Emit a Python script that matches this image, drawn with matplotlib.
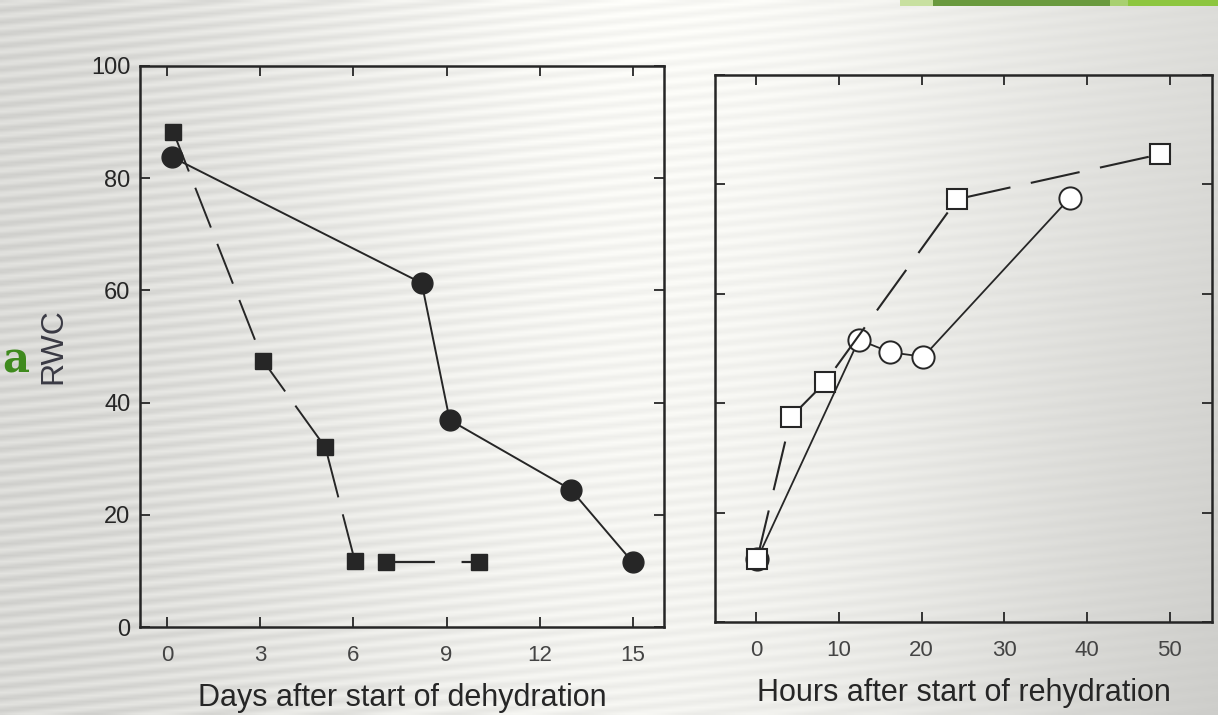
import matplotlib
matplotlib.use("Agg")
import matplotlib.pyplot as plt
import numpy as np

plt.rcParams['font.family'] = ['Liberation Sans', 'DejaVu Sans']

# Data
# Left panel: days after start of dehydration
dehyd_sq_days = [0.2, 3.1, 5.1, 6.05, 7.05, 10.05]
dehyd_sq_rwc = [88.3, 47.4, 32.0, 11.7, 11.5, 11.5]
dehyd_ci_days = [0.15, 8.2, 9.1, 13.0, 15.0]
dehyd_ci_rwc = [83.8, 61.3, 36.9, 24.5, 11.5]

# Right panel: hours after start of rehydration
rehyd_sq_hours = [0.1, 4.2, 8.3, 24.3, 48.8]
rehyd_sq_rwc = [11.5, 37.5, 43.8, 77.3, 85.5]
rehyd_ci_hours = [0.1, 12.4, 16.2, 20.2, 37.9]
rehyd_ci_rwc = [11.5, 51.6, 49.3, 48.5, 77.5]

left_xticks = [0, 3, 6, 9, 12, 15]
right_xticks = [0, 10, 20, 30, 40, 50]
yticks = [0, 20, 40, 60, 80, 100]

W, H = 1218, 715
fig = plt.figure(figsize=(W / 100, H / 100), dpi=100)

# Photographed-slide background: grey gradient with faint moire stripes
bg = fig.add_axes([0, 0, 1, 1], zorder=-5)
xx, yy = np.meshgrid(np.linspace(0, 1, 400), np.linspace(0, 1, 240))
base = 0.83 + 0.15 * np.exp(-((xx - 0.55) / 0.38) ** 2) - 0.06 * xx * yy
stripes = 0.04 * np.sin((yy * 240 + xx * 40) * 2 * np.pi / 4.0) * np.clip(1.1 - xx, 0, 1)
img = np.clip(base + stripes, 0, 1)
bg.imshow(np.dstack([img, img, img * 0.985]), aspect='auto', extent=[0, 1, 0, 1],
          origin='upper', interpolation='bilinear')
bg.set_xlim(0, 1)
bg.set_ylim(0, 1)
bg.axis('off')

# Slide decorations: green bars at top right and the stray green letter
for x0, x1, col in [(900, 933, '#c8e0a0'), (933, 1110, '#6a9a3e'),
                    (1110, 1128, '#a8d070'), (1128, 1218, '#8dc63f')]:
    bg.add_patch(plt.Rectangle((x0 / W, 1 - 6 / H), (x1 - x0) / W, 6 / H,
                               color=col, lw=0, transform=bg.transAxes))
fig.text(0.002, 1 - 360 / H, 'a', color='#3f8a1e', fontsize=30, fontweight='bold',
         family=['DejaVu Serif'], ha='left', va='center')

ink = '#262626'


def style(ax, xlim, xticks):
    ax.set_facecolor('none')
    ax.set_xlim(*xlim)
    ax.set_ylim(0, 100)
    ax.set_xticks(xticks)
    ax.set_yticks(yticks)
    ax.tick_params(direction='in', top=True, right=True, length=7, width=1.3,
                   colors=ink, labelsize=16, pad=13)
    ax.tick_params(axis='x', labelcolor='#444444')
    for s in ax.spines.values():
        s.set_linewidth(1.8)
        s.set_color(ink)


# Left panel
ax1 = fig.add_axes([140 / W, 1 - 627 / H, 524 / W, 561 / H])
style(ax1, (-0.87, 16.0), left_xticks)
ax1.plot(dehyd_sq_days[:4], dehyd_sq_rwc[:4], color=ink, lw=1.4, dashes=(22, 9),
         marker='s', ms=11, mfc=ink, mec=ink)
ax1.plot(dehyd_sq_days[4:], dehyd_sq_rwc[4:], color=ink, lw=1.6, dashes=(22, 12),
         marker='s', ms=11, mfc=ink, mec=ink)
ax1.plot(dehyd_ci_days, dehyd_ci_rwc, color=ink, lw=1.4, marker='o', ms=15,
         mfc=ink, mec=ink)
ax1.set_ylabel('RWC', fontsize=23, color='#3a3a44', labelpad=16)
ax1.set_xlabel('Days after start of dehydration', fontsize=22, color=ink, labelpad=12)
ax1.tick_params(axis='y', labelsize=17, labelcolor=ink, pad=7)

# Right panel
ax2 = fig.add_axes([715 / W, 1 - 622 / H, 497 / W, 547 / H])
style(ax2, (-5.0, 55.1), right_xticks)
ax2.tick_params(axis='y', labelleft=False)
ax2.plot(rehyd_sq_hours, rehyd_sq_rwc, color=ink, lw=1.5, dashes=(24, 10),
         marker='s', ms=15, mfc='white', mec=ink, mew=1.5, zorder=3)
ax2.plot(rehyd_ci_hours, rehyd_ci_rwc, color=ink, lw=1.3, marker='o', ms=16,
         mfc='white', mec=ink, mew=1.4, zorder=2)
ax2.set_xlabel('Hours after start of rehydration', fontsize=22, color=ink, labelpad=12)

fig.savefig('out.png', dpi=100)
